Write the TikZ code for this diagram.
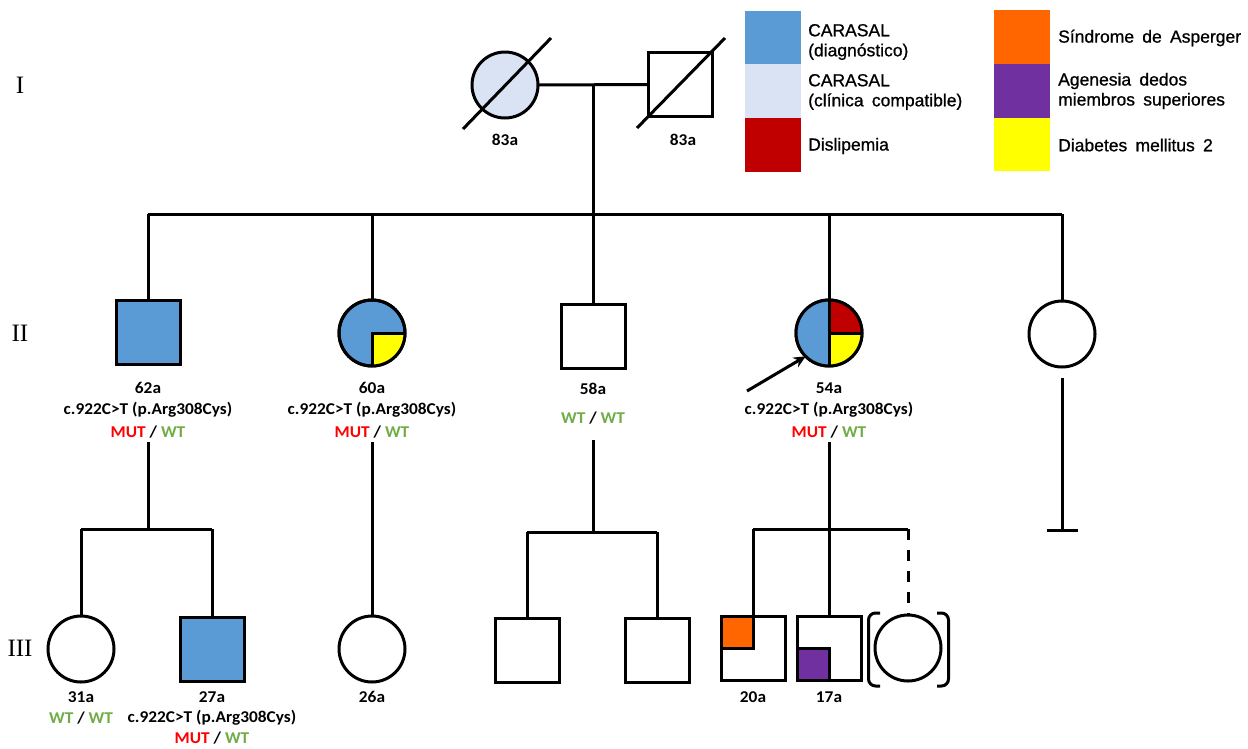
\documentclass[tikz,border=0pt]{standalone}
\usepackage{fontspec}
\usetikzlibrary{arrows.meta}
\newfontfamily\labf{Carlito}[FakeStretch=1.05]
\newfontfamily\legf{Liberation Sans}[WordSpace=1.7,FakeBold=0.8]
\newfontfamily\romf{Liberation Serif}
\definecolor{cblue}{HTML}{5B9BD5}
\definecolor{clight}{HTML}{DAE3F3}
\definecolor{cred}{HTML}{C00000}
\definecolor{corange}{HTML}{FF6600}
\definecolor{cpurple}{HTML}{7030A0}
\definecolor{cyellow}{HTML}{FFFF00}
\definecolor{cmut}{HTML}{FF0000}
\definecolor{cwt}{HTML}{70AD47}
\newcommand{\mutwt}{{\color{cmut}MUT} / {\color{cwt}WT}}
\newcommand{\wtwt}{{\color{cwt}WT} / {\color{cwt}WT}}
\newcommand{\hgvs}{c.922C>T (p.Arg308Cys)}
\begin{document}
\begin{tikzpicture}[x=1pt,y=-1pt,
  ln/.style={line width=3pt},
  circ/.style={circle, draw, line width=3pt, minimum size=66pt, inner sep=0pt, outer sep=0pt},
  sq/.style={rectangle, draw, line width=3pt, minimum size=64pt, inner sep=0pt, outer sep=0pt},
  lab/.style={font=\labf\bfseries\fontsize{16.5}{19}\selectfont, inner sep=0pt},
  legt/.style={font=\legf\fontsize{17.5}{20}\selectfont, align=left, anchor=west, inner sep=0pt},
  legbox/.style={rectangle, minimum width=56pt, minimum height=53.5pt, inner sep=0pt, outer sep=0pt},
  gen/.style={font=\romf\fontsize{25}{28}\selectfont, inner sep=0pt},
  probarrow/.style={line width=3pt, -{Stealth[length=12pt,width=11pt]}}
]
\useasboundingbox[fill=white] (0,0) rectangle (1248,748);

% legend
\node[legbox, fill=cblue]   (lb1) at (773,37.5) {};
\node[legbox, fill=clight]  (lb2) at (773,91) {};
\node[legbox, fill=cred]    (lb3) at (773,145) {};
\node[legbox, fill=corange] (lb4) at (1022,37) {};
\node[legbox, fill=cpurple] (lb5) at (1022,91) {};
\node[legbox, fill=cyellow] (lb6) at (1022,144.5) {};
\node[legt] (lt1) at (808,42) {CARASAL\\(diagnóstico)};
\node[legt] (lt2) at (808,92) {CARASAL\\(clínica compatible)};
\node[legt] (lt3) at (808,146) {Dislipemia};
\node[legt] (lt4) at (1058,38) {Síndrome de Asperger};
\node[legt] (lt5) at (1058,91) {Agenesia dedos\\miembros superiores};
\node[legt] (lt6) at (1058,145) {Diabetes mellitus 2};

% generation labels
\node[gen] (gI) at (20,85) {I};
\node[gen] (gII) at (20,333) {II};
\node[gen] (gIII) at (20,648) {III};

% generation I
\node[circ, fill=clight] (i1) at (505,85) {};
\node[sq, fill=white] (i2) at (680,84.5) {};
\draw[ln] (463,129) -- (551,38);
\draw[ln] (637,128) -- (725,38);
\node[lab] (a83l) at (505,140) {83a};
\node[lab] (a83r) at (683,140) {83a};
\coordinate (mI) at (593,85);
\coordinate (sibII) at (593,214);
\draw[ln] (i1.east) -- (i2.west);
\draw[ln] (mI) -- (sibII);

% generation II
\node[sq, fill=cblue] (ii1) at (148,332) {};
\node[circ, fill=cblue] (ii2) at (372,333) {};
\fill[cyellow] (ii2.center) -- (ii2.east) arc[start angle=0, end angle=90, radius=33] -- cycle;
\draw[ln] (ii2.east) -- (ii2.center) -- (ii2.south);
\draw[ln] (ii2.center) circle[radius=33];
\node[sq] (ii3) at (593,336) {};
\node[circ] (ii4) at (829,333) {};
\fill[cblue] (ii4.north) arc[start angle=270, end angle=90, radius=33] -- cycle;
\fill[cred] (ii4.center) -- (ii4.north) arc[start angle=270, end angle=360, radius=33] -- cycle;
\fill[cyellow] (ii4.center) -- (ii4.east) arc[start angle=0, end angle=90, radius=33] -- cycle;
\draw[ln] (ii4.north) -- (ii4.south);
\draw[ln] (ii4.center) -- (ii4.east);
\draw[ln] (ii4.center) circle[radius=33];
\node[circ] (ii5) at (1062,334) {};

\draw[ln] (ii1.north |- sibII) -- (ii5.north |- sibII);
\foreach \n in {ii1,ii2,ii3,ii4,ii5} \draw[ln] (\n.north |- sibII) -- (\n.north);

\node[lab] (l62) at (148,388) {62a};
\node[lab] (g62) at (148,410) {\hgvs};
\node[lab] (m62) at (148,432) {\mutwt};
\node[lab] (l60) at (372,388) {60a};
\node[lab] (g60) at (372,410) {\hgvs};
\node[lab] (m60) at (372,432) {\mutwt};
\node[lab] (l58) at (593,389) {58a};
\node[lab] (m58) at (593,418) {\wtwt};
\node[lab] (l54) at (829,388) {54a};
\node[lab] (g54) at (829,410) {\hgvs};
\node[lab] (m54) at (829,432) {\mutwt};

\coordinate (pa0) at (747,391);
\draw[probarrow] (pa0) -- (ii4.225);

% II-5 no offspring
\coordinate (nc1) at (1062,378);
\coordinate (nc2) at (1062,530);
\coordinate (ncl) at (1047,530);
\coordinate (ncr) at (1078,530);
\draw[ln] (nc1) -- (nc2);
\draw[ln] (ncl) -- (ncr);

% generation III
\node[circ] (iii1) at (81,649) {};
\node[sq, fill=cblue] (iii2) at (212,649) {};
\node[circ] (iii3) at (372,649) {};
\node[sq] (iii4) at (527,650) {};
\node[sq] (iii5) at (657,650) {};
\node[sq] (iii6) at (753,648) {};
\fill[corange] (iii6.north west) rectangle (iii6.center);
\draw[ln] (iii6.west) -- (iii6.center) -- (iii6.north);
\draw[ln] (iii6.north west) rectangle (iii6.south east);
\node[sq] (iii7) at (829,648) {};
\fill[cpurple] (iii7.south west) rectangle (iii7.center);
\draw[ln] (iii7.west) -- (iii7.center) -- (iii7.south);
\draw[ln] (iii7.north west) rectangle (iii7.south east);
\node[circ] (iii8) at (908,648) {};
\draw[ln, rounded corners=7pt] (880,613) -- (868.5,613) -- (868.5,686) -- (880,686);
\draw[ln, rounded corners=7pt] (937,613) -- (948.5,613) -- (948.5,686) -- (937,686);

% descent lines
\coordinate (d1) at (148,442);
\coordinate (s1) at (148,529);
\draw[ln] (d1) -- (s1);
\draw[ln] (iii1.north |- s1) -- (iii2.north |- s1);
\draw[ln] (iii1.north |- s1) -- (iii1.north);
\draw[ln] (iii2.north |- s1) -- (iii2.north);

\coordinate (d2) at (372,442);
\draw[ln] (d2) -- (iii3.north);

\coordinate (d3) at (593,440);
\coordinate (s3) at (593,532);
\draw[ln] (d3) -- (s3);
\draw[ln] (iii4.north |- s3) -- (iii5.north |- s3);
\draw[ln] (iii4.north |- s3) -- (iii4.north);
\draw[ln] (iii5.north |- s3) -- (iii5.north);

\coordinate (d4) at (829,442);
\coordinate (s4) at (829,529);
\draw[ln] (d4) -- (s4);
\draw[ln] (iii6.north |- s4) -- (iii8.north |- s4);
\draw[ln] (iii6.north |- s4) -- (iii6.north);
\draw[ln] (iii7.north |- s4) -- (iii7.north);
\draw[ln, dash pattern=on 11pt off 10pt] (iii8.north |- s4) -- (iii8.north);

% generation III labels
\node[lab] (l31) at (81,697) {31a};
\node[lab] (m31) at (81,718) {\wtwt};
\node[lab] (l27) at (212,697) {27a};
\node[lab] (g27) at (212,718) {\hgvs};
\node[lab] (m27) at (212,738.5) {\mutwt};
\node[lab] (l26) at (372,697) {26a};
\node[lab] (l20) at (753,697) {20a};
\node[lab] (l17) at (829,697) {17a};
\end{tikzpicture}
\end{document}
